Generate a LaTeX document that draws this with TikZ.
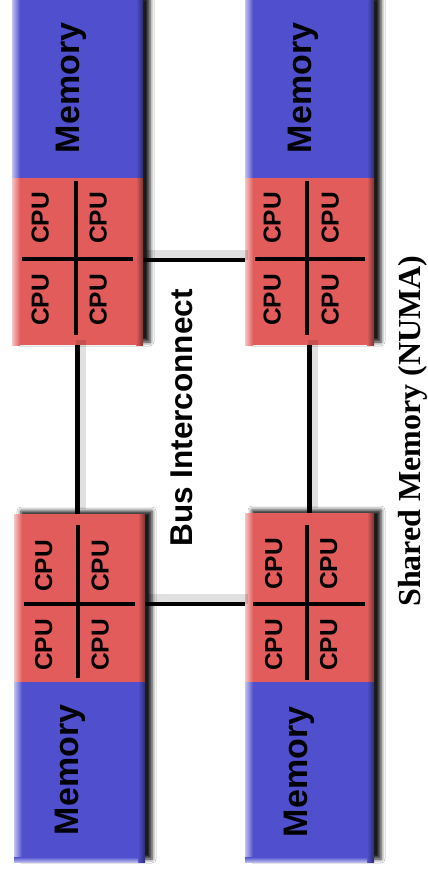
\documentclass[tikz,border=0pt]{standalone}
\usepackage{fontspec}
\setmainfont{Liberation Serif}
\setsansfont{Liberation Sans}
\usetikzlibrary{shadows,shadows.blur,calc}
\definecolor{memblue}{RGB}{80,80,206}
\definecolor{cpured}{RGB}{226,92,92}
\begin{document}
\begin{tikzpicture}[x=1pt,y=-1pt,
  blockbase/.style={draw=none, inner sep=0pt, outer sep=0pt},
  modbox/.style={blockbase, fill=black, blur shadow={shadow xshift=7pt, shadow yshift=3pt, shadow blur radius=4pt, shadow opacity=90}},
  membox/.style={blockbase, fill=memblue},
  cpubox/.style={blockbase, fill=cpured},
  divline/.style={line width=3.2pt, black},
  conn/.style={line width=4.3pt, black,
     preaction={draw, line width=10pt, black, opacity=.12, transform canvas={xshift=3pt,yshift=5pt}}},
  memlabel/.style={rotate=90, inner sep=0pt, text height=0.72em, text depth=0pt, font=\sffamily\bfseries\fontsize{34}{34}\selectfont},
  cpulabel/.style={rotate=90, inner sep=0pt, text height=0.72em, text depth=0pt, font=\sffamily\bfseries\fontsize{24.5}{24.5}\selectfont},
  buslabel/.style={rotate=90, inner sep=0pt, text height=0.72em, text depth=0pt, font=\sffamily\bfseries\fontsize{31.5}{31.5}\selectfont},
  titlelabel/.style={rotate=90, inner sep=0pt, anchor=base, font=\rmfamily\bfseries\fontsize{32}{32}\selectfont},
]
\useasboundingbox (0,0) rectangle (428,879);
\fill[white] (0,0) rectangle (428,879);

\coordinate (toph) at (0,260);
\coordinate (both) at (0,604);

% module shadows
\node[modbox, minimum width=131pt, minimum height=345pt] (tlmod) at (77.5,172.5) {};
\node[modbox, minimum width=129pt, minimum height=345pt] (trmod) at (309.5,172.5) {};
\node[modbox, minimum width=131pt, minimum height=348pt] (blmod) at (79.5,688) {};
\node[modbox, minimum width=129pt, minimum height=349pt] (brmod) at (309.5,687.5) {};

% blocks
\node[membox, minimum width=131pt, minimum height=178pt] (tlm) at (77.5,89) {};
\node[cpubox, minimum width=131pt, minimum height=167pt] (tlc) at (77.5,261.5) {};
\node[membox, minimum width=129pt, minimum height=178pt] (trm) at (309.5,89) {};
\node[cpubox, minimum width=129pt, minimum height=167pt] (trc) at (309.5,261.5) {};
\node[cpubox, minimum width=131pt, minimum height=168pt] (blc) at (79.5,598) {};
\node[membox, minimum width=131pt, minimum height=180pt] (blm) at (79.5,772) {};
\node[cpubox, minimum width=129pt, minimum height=169pt] (brc) at (309.5,597.5) {};
\node[membox, minimum width=129pt, minimum height=180pt] (brm) at (309.5,772) {};

% left highlights and right dark edges
\foreach \n/\c in {tlm/memblue,tlc/cpured,trm/memblue,trc/cpured,blc/cpured,blm/memblue,brc/cpured,brm/memblue}{
  \shade[left color=\c!35!white, right color=\c] (\n.north west) rectangle ($(\n.south west)+(8,0)$);
  \shade[left color=\c, right color=\c!55!black] ($(\n.north east)+(-7,0)$) rectangle (\n.south east);
}
\shade[top color=memblue, bottom color=memblue!40!white] ($(blm.south west)+(0,-5)$) rectangle ($(blm.south east)+(-7,0)$);
\shade[top color=memblue, bottom color=memblue!40!white] ($(brm.south west)+(0,-5)$) rectangle ($(brm.south east)+(-7,0)$);

% connectors between CPU blocks
\draw[conn] (tlc.south) -- (tlc.south |- blc.north);
\draw[conn] (trc.south) -- (trc.south |- brc.north);
\draw[conn] (tlc.east |- toph) -- (trc.west |- toph);
\draw[conn] (blc.east |- both) -- (brc.west |- both);

% dividers
\draw[divline] (76,181) -- (76,335);
\draw[divline] (22,259) -- (133,259);
\draw[divline] (307,181) -- (307,335);
\draw[divline] (255,259) -- (365,259);
\draw[divline] (78,525) -- (78,678);
\draw[divline] (24,604) -- (135,604);
\draw[divline] (307,525) -- (307,680);
\draw[divline] (253,604) -- (365,604);

% memory labels
\node[memlabel] (tlml) at (76,88) {Memory};
\node[memlabel] (trml) at (308,88) {Memory};
\node[memlabel] (blml) at (75,770) {Memory};
\node[memlabel] (brml) at (304,772) {Memory};

% CPU labels
\node[cpulabel] (tl1) at (45,218) {CPU};
\node[cpulabel] (tl2) at (103,218) {CPU};
\node[cpulabel] (tl3) at (45,300) {CPU};
\node[cpulabel] (tl4) at (103,300) {CPU};
\node[cpulabel] (tr1) at (277,218) {CPU};
\node[cpulabel] (tr2) at (335,218) {CPU};
\node[cpulabel] (tr3) at (277,300) {CPU};
\node[cpulabel] (tr4) at (335,300) {CPU};
\node[cpulabel] (bl1) at (48.5,566) {CPU};
\node[cpulabel] (bl2) at (105,566) {CPU};
\node[cpulabel] (bl3) at (48.5,645) {CPU};
\node[cpulabel] (bl4) at (105,645) {CPU};
\node[cpulabel] (br1) at (278.5,564) {CPU};
\node[cpulabel] (br2) at (333.5,564) {CPU};
\node[cpulabel] (br3) at (278.5,645) {CPU};
\node[cpulabel] (br4) at (333.5,645) {CPU};

% bus label and title
\node[buslabel] (bus) at (188.5,418) {Bus Interconnect};
\node[titlelabel] (title) at (420,431) {Shared Memory (NUMA)};
\end{tikzpicture}
\end{document}
